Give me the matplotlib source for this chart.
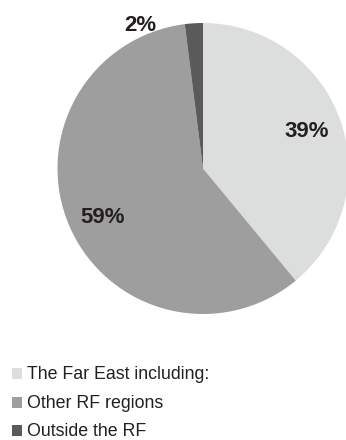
import numpy as np
import matplotlib.pyplot as plt
from matplotlib.patches import Rectangle

# === Dane ===
categories = ['The Far East including:', 'Other RF regions', 'Outside the RF']
shares = [39, 59, 2]
colors = ['#dcdddd', '#9e9e9e', '#5a5a5a']
text_color = '#231f20'

plt.rcParams['font.family'] = ['Liberation Sans', 'DejaVu Sans']

W, H = 346, 440
fig = plt.figure(figsize=(W / 100, H / 100), dpi=100)

# pie: centre (203, 168.5) px, radius 145.5 px
cx, cy, r = 203, 168.5, 145.5
ax = fig.add_axes([(cx - r) / W, (H - cy - r) / H, 2 * r / W, 2 * r / H])
wedges, _, autotexts = ax.pie(
    shares, colors=colors, startangle=90, counterclock=False,
    autopct=lambda p: f'{p:.0f}%', pctdistance=0.76,
    textprops=dict(fontsize=16, fontweight='bold', color=text_color),
    wedgeprops=dict(linewidth=0))
ax.set_xlim(-1, 1)
ax.set_ylim(-1, 1)
ax.set_aspect('equal')
ax.axis('off')

# label positions as in the original layout
autotexts[1].set_position((-0.69, -0.34))
autotexts[2].set_position((-0.43, 0.98))

# === Legenda (rysowana recznie) ===
for i, (lab, c) in enumerate(zip(categories, colors)):
    base = 379 + 28.5 * i  # baseline in px from top
    fig.add_artist(Rectangle((12 / W, (H - base) / H), 10 / W, 11 / H,
                             transform=fig.transFigure, facecolor=c,
                             edgecolor='none'))
    fig.text(27 / W, (H - base) / H, lab, fontsize=12.8, color=text_color,
             ha='left', va='baseline')

fig.savefig('out.png', dpi=100)
